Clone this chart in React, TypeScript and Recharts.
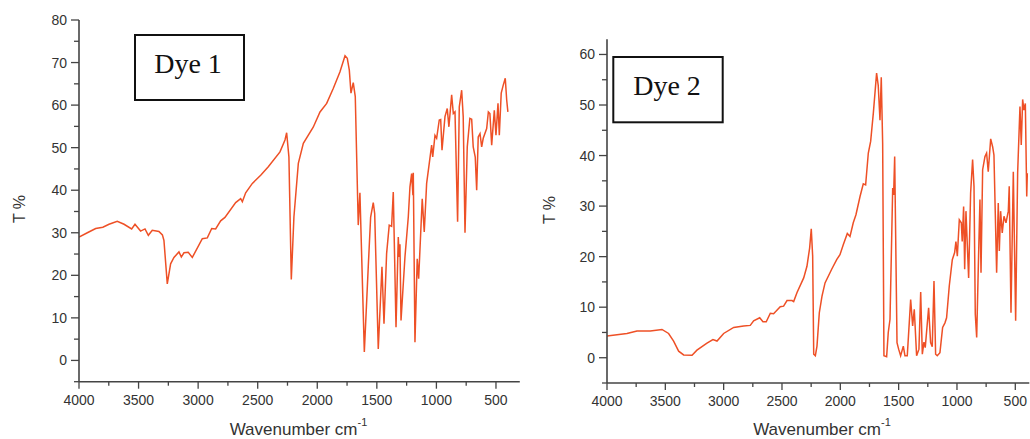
import { LineChart, Line, XAxis, YAxis } from "recharts";

const LINE = "#EE5026";
const AXIS = "#444";
const TEXT = "#333";
const SANS = "'Liberation Sans', Arial, sans-serif";

// Dye 1 spectrum (wavenumber cm-1, transmittance %)
const dye1Wavenumbers = [
  4000, 3930, 3860, 3800, 3748, 3679, 3622, 3558, 3530, 3483, 3446, 3418, 3385, 3329, 3300, 3287,
  3259, 3231, 3203, 3161, 3141, 3119, 3083, 3049, 2965, 2923, 2886, 2853, 2811, 2775, 2685, 2643,
  2629, 2601, 2545, 2475, 2411, 2313, 2271, 2257, 2238, 2218, 2196, 2159, 2117, 2034, 1977, 1921,
  1866, 1810, 1767, 1748, 1731, 1717, 1698, 1681, 1656, 1642, 1605, 1572, 1552, 1530, 1518, 1488,
  1457, 1440, 1418, 1396, 1376, 1362, 1339, 1320, 1312, 1306, 1297, 1264, 1236, 1222, 1208, 1197,
  1194, 1180, 1161, 1149, 1119, 1102, 1082, 1060, 1040, 1031, 1012, 998, 976, 964, 953, 928, 909,
  895, 872, 858, 844, 822, 808, 788, 775, 760, 741, 719, 704, 691, 674, 662, 649, 634, 620, 607,
  578, 564, 551, 536, 514, 500, 483, 472, 456, 439, 422, 410, 400,
];
const dye1Transmittance = [
  29.0, 30.0, 31.0, 31.3, 32.0, 32.7, 32.0, 30.9, 32.0, 30.4, 30.9, 29.4, 30.6, 30.3, 29.5, 28.2,
  18.0, 22.7, 24.2, 25.5, 24.3, 25.3, 25.4, 24.2, 28.6, 28.8, 31.0, 30.9, 32.8, 33.6, 37.1, 38.0,
  37.3, 39.4, 41.6, 43.5, 45.5, 49.0, 51.8, 53.5, 47.8, 19.0, 33.7, 46.3, 51.0, 54.8, 58.4, 60.4,
  63.9, 67.8, 71.6, 71.0, 68.2, 62.8, 65.3, 62.0, 31.8, 39.4, 2.0, 22.0, 33.7, 37.1, 34.5, 2.7,
  22.0, 8.6, 25.1, 31.8, 31.5, 39.6, 7.8, 29.0, 24.3, 27.3, 9.4, 24.3, 33.7, 40.8, 43.9, 38.8,
  44.1, 4.3, 23.9, 19.2, 38.0, 30.2, 41.6, 46.3, 50.6, 47.8, 52.9, 52.2, 56.5, 56.6, 49.4, 57.3, 59.2,
  54.9, 62.4, 58.0, 58.4, 32.6, 59.6, 63.5, 57.3, 30.0, 50.2, 56.9, 56.7, 50.2, 47.8, 40.0, 52.5, 53.3, 50.2, 52.2,
  54.5, 58.4, 58.0, 50.6, 58.8, 52.9, 60.4, 52.9, 62.8, 64.7, 66.3, 61.2, 58.4,
];

// Dye 2 spectrum
const dye2Wavenumbers = [
  4000, 3829, 3743, 3629, 3529, 3472, 3429, 3386, 3343, 3271, 3229, 3143, 3092, 3057, 3000, 2914,
  2829, 2772, 2743, 2691, 2663, 2635, 2600, 2572, 2515, 2486, 2457, 2414, 2400, 2371, 2314, 2286,
  2263, 2249, 2237, 2228, 2214, 2200, 2180, 2157, 2131, 2074, 2031, 2003, 1974, 1940, 1917, 1889,
  1866, 1831, 1803, 1783, 1760, 1740, 1717, 1689, 1675, 1660, 1649, 1637, 1626, 1603, 1589, 1574,
  1551, 1543, 1534, 1523, 1514, 1500, 1483, 1460, 1446, 1426, 1397, 1380, 1366, 1346, 1326, 1311,
  1297, 1283, 1272, 1243, 1226, 1212, 1197, 1183, 1169, 1146, 1123, 1103, 1089, 1066, 1040, 1020,
  1009, 997, 980, 963, 955, 943, 934, 923, 900, 883, 866, 854, 843, 831, 817, 803, 794, 780, 760,
  746, 732, 711, 694, 683, 660, 646, 637, 626, 612, 597, 580, 560, 552, 537, 517, 497, 480, 460,
  449, 437, 426, 414, 402, 397,
];
const dye2Transmittance = [
  4.3, 4.8, 5.3, 5.3, 5.6, 4.8, 3.3, 1.3, 0.55, 0.5, 1.5, 2.9, 3.6, 3.3, 4.8, 6.0,
  6.3, 6.4, 7.3, 7.9, 7.1, 7.1, 8.8, 8.7, 10.1, 10.2, 11.3, 11.3, 11.1, 12.9, 15.8, 18.1,
  21.7, 25.5, 20.1, 0.7, 0.4, 2.3, 8.9, 12.2, 14.8, 17.5, 19.4, 20.4, 22.4, 24.6, 24.0, 26.7,
  28.3, 31.9, 34.4, 34.2, 40.5, 42.8, 48.4, 56.3, 53.9, 47.0, 55.5, 42.4, 0.4, 0.2, 5.0, 7.6,
  33.6, 32.2, 39.8, 19.4, 3.0, 1.7, 0.4, 2.3, 0.4, 0.4, 11.5, 6.3, 9.6, 0.4, 1.7, 13.0,
  0.7, 3.1, 2.0, 9.9, 3.0, 2.2, 15.2, 0.7, 0.4, 1.0, 6.0, 6.9, 7.9, 14.2, 19.4, 20.8,
  23.0, 20.1, 27.3, 26.7, 23.0, 29.9, 17.5, 29.0, 15.8, 32.6, 39.2, 33.9, 8.6, 4.0, 18.1, 31.3, 16.8, 37.2, 39.8,
  40.5, 36.8, 43.3, 41.7, 40.1, 16.8, 30.6, 21.1, 29.0, 24.7, 28.0, 26.7, 29.0, 33.9, 8.9, 36.8, 7.3, 36.5, 49.7,
  42.1, 51.1, 49.0, 50.3, 31.9, 36.5,
];

const xMajor = [4000, 3500, 3000, 2500, 2000, 1500, 1000, 500];
const xMinor = [3750, 3250, 2750, 2250, 1750, 1250, 750];
const y1Major = [0, 10, 20, 30, 40, 50, 60, 70, 80];
const y1Minor = [-5, 5, 15, 25, 35, 45, 55, 65, 75];
const y2Major = [0, 10, 20, 30, 40, 50, 60];
const y2Minor = [-5, 5, 15, 25, 35, 45, 55];

const dye1 = dye1Wavenumbers.map((wn, i) => ({ wn, t: dye1Transmittance[i] }));
const dye2 = dye2Wavenumbers.map((wn, i) => ({ wn, t: dye2Transmittance[i] }));

function yTick(majors: number[]) {
  return (props: any) => {
    const { x, y, payload } = props;
    const major = majors.includes(payload.value);
    return (
      <g>
        <line x1={x} x2={x - (major ? 8 : 5)} y1={y} y2={y} stroke={AXIS} strokeWidth={1.3} />
        {major && (
          <text x={x - 12} y={y} dy={5} textAnchor="end" fontSize={14} fontFamily={SANS} fill={TEXT}>
            {payload.value}
          </text>
        )}
      </g>
    );
  };
}

function xTick(props: any) {
  const { x, y, payload } = props;
  const major = xMajor.includes(payload.value);
  return (
    <g>
      <line x1={x} x2={x} y1={y} y2={y + (major ? 7 : 4)} stroke={AXIS} strokeWidth={1.3} />
      {major && (
        <text x={x} y={y + 23} textAnchor="middle" fontSize={14} fontFamily={SANS} fill={TEXT}>
          {payload.value}
        </text>
      )}
    </g>
  );
}

function Spectrum(props: {
  data: any[];
  width: number;
  top: number;
  right: number;
  yWidth: number;
  xHeight: number;
  xMin: number;
  yDomain: number[];
  yTicks: number[];
  yMajor: number[];
}) {
  return (
    <LineChart
      width={props.width}
      height={439}
      data={props.data}
      margin={{ top: props.top, right: props.right, bottom: 0, left: 0 }}
    >
      <XAxis
        dataKey="wn"
        type="number"
        reversed
        domain={[props.xMin, 4000]}
        allowDataOverflow
        ticks={[...xMajor, ...xMinor]}
        interval={0}
        tickSize={0}
        tickMargin={0}
        tickLine={false}
        tick={xTick}
        height={props.xHeight}
        axisLine={{ stroke: AXIS, strokeWidth: 1.6 }}
      />
      <YAxis
        type="number"
        domain={props.yDomain}
        allowDataOverflow
        ticks={props.yTicks}
        interval={0}
        tickSize={0}
        tickMargin={0}
        tickLine={false}
        tick={yTick(props.yMajor)}
        width={props.yWidth}
        axisLine={{ stroke: AXIS, strokeWidth: 1.6 }}
      />
      <Line
        dataKey="t"
        type="linear"
        stroke={LINE}
        strokeWidth={1.5}
        dot={false}
        isAnimationActive={false}
      />
    </LineChart>
  );
}

export default function App() {
  return (
    <div style={{ position: "absolute", left: 0, top: 0, width: 1030, height: 439, background: "#fff" }}>
      <div style={{ position: "absolute", left: 0, top: 0 }}>
        <Spectrum
          data={dye1}
          width={530}
          top={20}
          right={10.2}
          yWidth={79}
          xHeight={57.3}
          xMin={300}
          yDomain={[-5, 80]}
          yTicks={[...y1Major, ...y1Minor]}
          yMajor={y1Major}
        />
      </div>
      <div style={{ position: "absolute", left: 530, top: 0 }}>
        <Spectrum
          data={dye2}
          width={500}
          top={39.3}
          right={0.7}
          yWidth={77}
          xHeight={56}
          xMin={380}
          yDomain={[-5, 63]}
          yTicks={[...y2Major, ...y2Minor]}
          yMajor={y2Major}
        />
      </div>
      <svg
        width={1030}
        height={439}
        style={{ position: "absolute", left: 0, top: 0, pointerEvents: "none" }}
      >
        <rect x={135} y={35} width={109} height={65} fill="#fff" stroke="#111" strokeWidth={2} />
        <text x={188} y={73} textAnchor="middle" fontSize={28} fontFamily="'Liberation Serif', 'Times New Roman', serif" fill="#111">
          Dye 1
        </text>
        <rect x={613.3} y={57} width={109.4} height={65.3} fill="#fff" stroke="#111" strokeWidth={2} />
        <text x={667} y={95} textAnchor="middle" fontSize={28} fontFamily="'Liberation Serif', 'Times New Roman', serif" fill="#111">
          Dye 2
        </text>
        <text x={298.5} y={435} textAnchor="middle" fontSize={17} fontFamily={SANS} fill={TEXT}>
          Wavenumber cm<tspan dy={-9} fontSize={11}>-1</tspan>
        </text>
        <text x={822} y={435} textAnchor="middle" fontSize={17} fontFamily={SANS} fill={TEXT}>
          Wavenumber cm<tspan dy={-9} fontSize={11}>-1</tspan>
        </text>
        <text x={24.5} y={209} transform="rotate(-90 24.5 209)" textAnchor="middle" fontSize={16} fontFamily={SANS} fill={TEXT}>
          T %
        </text>
        <text x={555} y={210} transform="rotate(-90 555 210)" textAnchor="middle" fontSize={16} fontFamily={SANS} fill={TEXT}>
          T %
        </text>
      </svg>
    </div>
  );
}
